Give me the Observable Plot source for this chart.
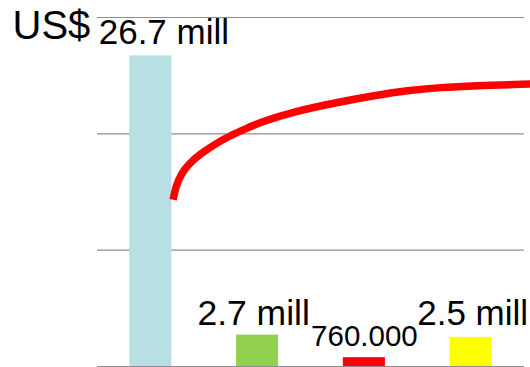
<!DOCTYPE html>
<html>
<head>
<meta charset="utf-8">
<script src="https://cdn.jsdelivr.net/npm/d3@7"></script>
<script src="https://cdn.jsdelivr.net/npm/@observablehq/plot@0.6"></script>
<style>
  html, body { margin: 0; padding: 0; background: #fff; overflow: hidden; }
  #chart svg { display: block; overflow: visible; }
</style>
</head>
<body>
<div id="chart"></div>
<script>
// Bar data
const categories = ["Bar 1", "Bar 2", "Bar 3", "Bar 4"];
const positions = [1, 2, 3, 4];
const values = [26.7, 2.7, 0.76, 2.5];          // US$ millions
const labels = ["26.7 mill", "2.7 mill", "760.000", "2.5 mill"];
const barColors = ["#b8dfe3", "#92d050", "#ff0000", "#ffff00"];

// Red growth curve (x in bar-position units, y in US$ millions)
const curveX = [1.209, 1.231, 1.284, 1.355, 1.465, 1.605, 1.746, 1.886, 2.027, 2.336, 2.804, 3.085, 3.404, 3.713, 4.022, 4.556];
const curveY = [14.33, 15.41, 16.57, 17.42, 18.28, 19.14, 19.86, 20.43, 21.00, 21.92, 22.81, 23.27, 23.73, 23.99, 24.14, 24.28];

// Gridlines
const gridTicks = [0, 10, 20, 30];
const unitLabel = "US$";

const bars = categories.map((c, i) => ({cat: c, pos: positions[i], value: values[i], label: labels[i]}));
const curve = curveX.map((x, i) => ({x, y: curveY[i]}));
const halfWidth = 0.197;

const font = "'Liberation Sans', Arial, sans-serif";

function barLabel(i, opts) {
  return Plot.text([bars[i]], Object.assign({x: "pos", y: "value", text: "label",
    lineAnchor: "bottom", textAnchor: "middle", fill: "#000"}, opts));
}

const chart = Plot.plot({
  width: 530,
  height: 367,
  marginTop: 17,
  marginBottom: 1,
  marginLeft: 97,
  marginRight: 6,
  style: {fontFamily: font, background: "transparent", overflow: "visible"},
  x: {type: "linear", domain: [0.5, 4.5], axis: null},
  y: {domain: [0, 30], axis: null},
  color: {domain: categories, range: barColors},
  marks: [
    Plot.ruleY(gridTicks, {stroke: "#8e8e8e", strokeWidth: 1.2}),
    Plot.rectY(bars, {x1: d => d.pos - halfWidth, x2: d => d.pos + halfWidth, y1: 0, y2: "value", fill: "cat"}),
    Plot.line(curve, {x: "x", y: "y", stroke: "#ff0000", strokeWidth: 7.5, curve: "basis", strokeLinecap: "butt"}),
    barLabel(0, {dx: 13, dy: -12, fontSize: 35}),
    barLabel(1, {dx: -4, dy: -10, fontSize: 35.5}),
    barLabel(2, {dx: 0, dy: -12, fontSize: 29.5}),
    barLabel(3, {dx: 1.5, dy: -12, fontSize: 35}),
    Plot.text([unitLabel], {frameAnchor: "top-left", text: d => d, dx: -85, dy: 21,
      lineAnchor: "bottom", textAnchor: "start", fontSize: 40, fill: "#000"})
  ]
});
document.getElementById("chart").appendChild(chart);
</script>
</body>
</html>
